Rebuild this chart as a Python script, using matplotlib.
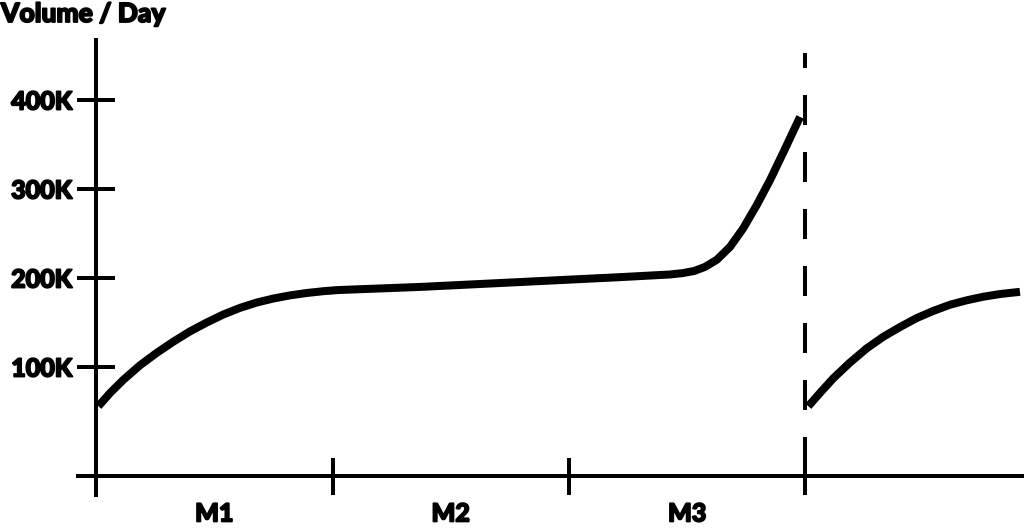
import matplotlib
matplotlib.use('Agg')
import matplotlib.pyplot as plt
import matplotlib.patheffects as pe

plt.rcParams['font.family'] = ['Lato', 'DejaVu Sans']

# ---- data ----
months = ['M1', 'M2', 'M3']
month_centers = [0.5, 1.5, 2.5]
month_bounds = [0, 1, 2, 3]
y_ticks = [100000, 200000, 300000, 400000]
y_labels = ['100K', '200K', '300K', '400K']
cycle_break = 3.0

seg1_x = [0.010, 0.060, 0.115, 0.186, 0.257, 0.327, 0.397, 0.468, 0.538, 0.609, 0.680,
          0.750, 0.820, 0.891, 0.961, 1.023, 1.370, 1.793, 2.216, 2.427, 2.480, 2.530,
          2.575, 2.625, 2.681, 2.737, 2.794, 2.850, 2.906, 2.977]
seg1_y = [56000, 71000, 85500, 102000, 116000, 128500, 140000, 150000, 159000, 166500, 172500,
          177000, 180500, 183200, 185200, 186500, 190000, 195500, 201000, 204000, 205500, 208000,
          212500, 220500, 235000, 256000, 282000, 310000, 341000, 381000]

seg2_x = [3.012, 3.065, 3.118, 3.188, 3.259, 3.329, 3.400, 3.470, 3.540, 3.611, 3.682,
          3.752, 3.822, 3.907]
seg2_y = [56000, 72000, 87500, 105000, 121000, 134000, 145000, 155000, 163000, 170000, 175000,
          179000, 182000, 184500]

PX = 100 / 72  # pixels per point at dpi 100
heavy = [pe.withStroke(linewidth=1.3, foreground='black')]

fig = plt.figure(figsize=(10.24, 5.30), dpi=100)
ax = fig.add_axes([0, 0, 1, 1])
ax.set_xlim(-0.406, 3.924)
ax.set_ylim(-83100, 512400)

for xs, ys in [(seg1_x, seg1_y), (seg2_x, seg2_y)]:
    ax.plot(xs, ys, color='black', lw=8 / PX, solid_capstyle='butt',
            solid_joinstyle='round')

lw_axis = 4 / PX
ax.plot([cycle_break, cycle_break], [452800, -22500], color='black', lw=lw_axis,
        linestyle=(3.75, (7.5, 6.75)))

for s in ['top', 'right']:
    ax.spines[s].set_visible(False)
ax.spines['left'].set_position(('data', 0))
ax.spines['left'].set_bounds(-46000, 470000)
ax.spines['bottom'].set_position(('data', -22500))
ax.spines['bottom'].set_bounds(-0.085, 3.924)
for s in ['left', 'bottom']:
    ax.spines[s].set_linewidth(lw_axis)
    ax.spines[s].set_capstyle('butt')

ax.set_yticks(y_ticks)
ax.set_yticklabels(y_labels)
ax.tick_params(axis='y', direction='inout', length=38 / PX, width=lw_axis, pad=3.5,
               labelsize=18)
for t in ax.get_yticklabels():
    t.set_fontweight('black')
    t.set_path_effects(heavy)

ax.set_xticks(month_bounds)
ax.set_xticklabels([''] * len(month_bounds))
ax.tick_params(axis='x', which='major', direction='inout', length=37 / PX, width=lw_axis)
ax.set_xticks(month_centers, minor=True)
ax.set_xticklabels(months, minor=True)
ax.tick_params(axis='x', which='minor', length=0, pad=19, labelsize=18)
for t in ax.get_xticklabels(minor=True):
    t.set_fontweight('black')
    t.set_path_effects(heavy)

fig.text(1 / 1024, 1 - 2 / 530, 'Volume / Day', ha='left', va='top', fontsize=19,
         fontweight='black', path_effects=heavy)

fig.savefig('out.png', dpi=100)
